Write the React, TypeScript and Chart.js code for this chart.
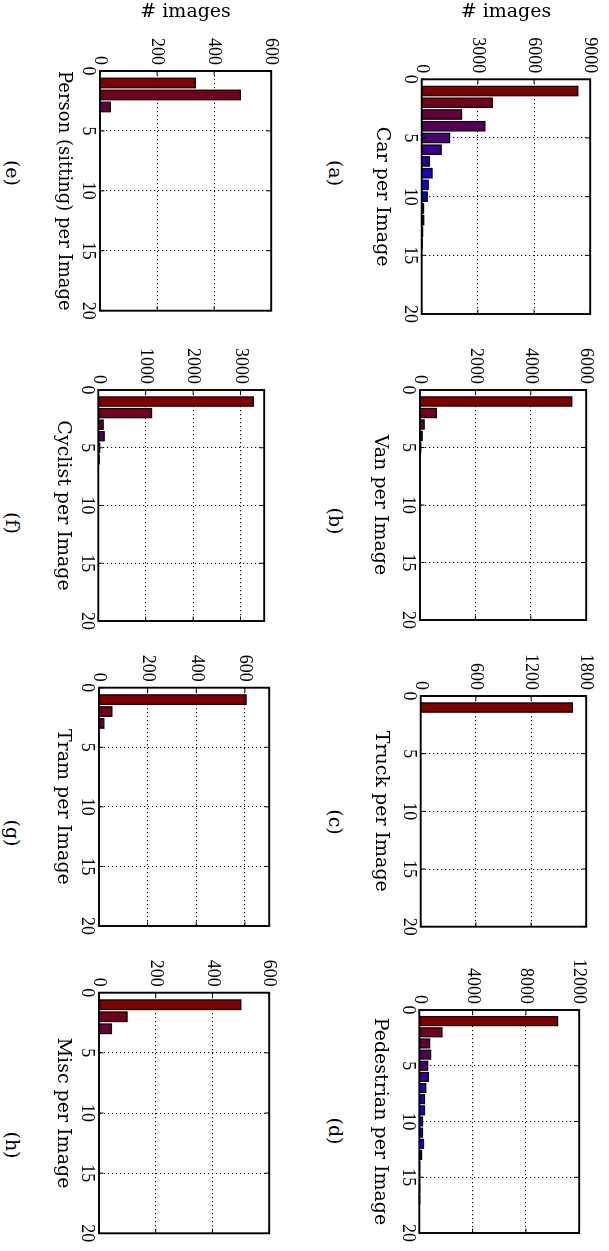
import React, { useEffect, useRef } from "react";
import { Chart, registerables } from "chart.js";

Chart.register(...registerables);

// Number of objects of a class in one image (bins of every histogram)
const OBJECTS_PER_IMAGE = [1, 2, 3, 4, 5, 6, 7, 8, 9, 10, 11, 12, 13, 14, 15, 16, 17, 18, 19, 20];
const COUNT_TICKS = [0, 5, 10, 15, 20];

// Number of images holding that many objects, per class
const carImages = [8340, 3770, 2130, 3375, 1490, 1040, 415, 555, 345, 295, 100, 110, 50, 20, 0, 0, 0, 0, 0, 0];
const vanImages = [5480, 590, 150, 80, 30, 0, 0, 0, 0, 0, 0, 0, 0, 0, 0, 0, 0, 0, 0, 0];
const truckImages = [1650, 0, 0, 0, 0, 0, 0, 0, 0, 0, 0, 0, 0, 0, 0, 0, 0, 0, 0, 0];
const pedestrianImages = [10380, 1700, 775, 850, 630, 680, 485, 390, 390, 240, 240, 315, 170, 40, 20, 10, 5, 0, 0, 0];
const personSittingImages = [334, 492, 36, 0, 0, 0, 0, 0, 0, 0, 0, 0, 0, 0, 0, 0, 0, 0, 0, 0];
const cyclistImages = [3272, 1124, 103, 124, 30, 20, 0, 0, 0, 0, 0, 0, 0, 0, 0, 0, 0, 0, 0, 0];
const tramImages = [605, 53, 20, 0, 0, 0, 0, 0, 0, 0, 0, 0, 0, 0, 0, 0, 0, 0, 0, 0];
const miscImages = [500, 99, 44, 0, 0, 0, 0, 0, 0, 0, 0, 0, 0, 0, 0, 0, 0, 0, 0, 0];

// Value axis tick labels and upper limits
const carYTicks = [0, 3000, 6000, 9000];
const vanYTicks = [0, 2000, 4000, 6000];
const truckYTicks = [0, 600, 1200, 1800];
const pedestrianYTicks = [0, 4000, 8000, 12000];
const personSittingYTicks = [0, 200, 400, 600];
const cyclistYTicks = [0, 1000, 2000, 3000];
const tramYTicks = [0, 200, 400, 600];
const miscYTicks = [0, 200, 400, 600];

const Y_LIMITS = [9000, 6000, 1800, 12000, 600, 3500, 700, 600];
const CLASS_LABELS = [
  "Car per Image",
  "Van per Image",
  "Truck per Image",
  "Pedestrian per Image",
  "Person (sitting) per Image",
  "Cyclist per Image",
  "Tram per Image",
  "Misc per Image",
];
const SUB_CAPTIONS = ["(a)", "(b)", "(c)", "(d)", "(e)", "(f)", "(g)", "(h)"];
const Y_AXIS_LABEL = "# images";

const SERIES = [carImages, vanImages, truckImages, pedestrianImages, personSittingImages, cyclistImages, tramImages, miscImages];
const Y_TICKS = [carYTicks, vanYTicks, truckYTicks, pedestrianYTicks, personSittingYTicks, cyclistYTicks, tramYTicks, miscYTicks];

// Figure geometry (landscape sheet, later turned a quarter clockwise)
const SHEET_W = 1251;
const SHEET_H = 609;
const PLOT_BOXES = [
  { x: 79.3, y: 14, w: 234.7, h: 173.3 },
  { x: 390, y: 18.3, w: 230, h: 170.7 },
  { x: 696, y: 18, w: 230.7, h: 170.3 },
  { x: 1010, y: 25, w: 223, h: 164.7 },
  { x: 71, y: 333, w: 239.7, h: 176 },
  { x: 390, y: 340.7, w: 231, h: 170 },
  { x: 687.7, y: 335.7, w: 238.3, h: 174.3 },
  { x: 992.7, y: 335.7, w: 240.6, h: 174.3 },
];
const SHOW_Y_LABEL = [true, false, false, false, true, false, false, false];
const Y_AREA = [78.2, 60, 60, 60, 69.9, 60, 60, 60];
const X_AREA = [51, 51, 51, 51, 47, 47, 47, 47];
const CAPTION_POS = [
  { x: 173, y: 273.5 },
  { x: 521, y: 273.5 },
  { x: 822, y: 273.5 },
  { x: 1131, y: 273.5 },
  { x: 173, y: 597.3 },
  { x: 523, y: 597.3 },
  { x: 833, y: 597.3 },
  { x: 1145, y: 597.3 },
];

const TICK_FONT = { family: '"Liberation Serif", "Times New Roman", serif', size: 18 };
const TITLE_FONT = { family: '"DejaVu Serif", serif', size: 19 };

// dark red -> blue colour ramp over the bins
function binColor(bin: number): string {
  const t = Math.min(1, (bin - 1) / 9);
  const r = Math.round(128 * (1 - t));
  const b = Math.round(255 * t);
  return `rgb(${r},0,${b})`;
}

// Black bar edges centred on the bar outline, then the plot box with
// inward tick marks on all four sides
const framePlugin = {
  id: "matlabFrame",
  afterDatasetsDraw(chart: any) {
    const { ctx, chartArea, scales } = chart;
    const { left, top, right, bottom } = chartArea;
    const xs = scales.x;
    const ys = scales.y;
    ctx.save();

    const meta = chart.getDatasetMeta(0);
    const raw = chart.data.datasets[0].data as any[];
    ctx.strokeStyle = "#000";
    ctx.lineWidth = 1.2;
    meta.data.forEach((el: any, i: number) => {
      if (!raw[i] || !raw[i].y) return;
      const { x, y, base, width } = el.getProps(["x", "y", "base", "width"], true);
      const y0 = Math.min(y, base);
      const h = Math.abs(base - y);
      ctx.strokeRect(x - width / 2, y0, width, h);
    });

    const L = 4.5;
    ctx.lineWidth = 1;
    ctx.beginPath();
    xs.ticks.forEach((t: any) => {
      const px = xs.getPixelForValue(t.value);
      ctx.moveTo(px, bottom);
      ctx.lineTo(px, bottom - L);
      ctx.moveTo(px, top);
      ctx.lineTo(px, top + L);
    });
    ys.ticks.forEach((t: any) => {
      const py = ys.getPixelForValue(t.value);
      ctx.moveTo(left, py);
      ctx.lineTo(left + L, py);
      ctx.moveTo(right, py);
      ctx.lineTo(right - L, py);
    });
    ctx.stroke();
    ctx.lineWidth = 1.9;
    ctx.strokeRect(left, top, right - left, bottom - top);
    ctx.restore();
  },
};

function Panel({ index }: { index: number }) {
  const ref = useRef<HTMLCanvasElement | null>(null);
  const box = PLOT_BOXES[index];
  const padTop = 12;
  const padRight = 14;
  const cl = Math.floor(box.x - Y_AREA[index]);
  const ct = Math.floor(box.y - padTop);
  const cr = Math.ceil(box.x + box.w + padRight);
  const cb = Math.ceil(box.y + box.h + X_AREA[index]);
  const width = cr - cl;
  const height = cb - ct;

  useEffect(() => {
    const canvas = ref.current;
    if (!canvas) return;
    const yW = box.x - cl;
    const xH = cb - (box.y + box.h);
    const values = SERIES[index];
    const yTicks = Y_TICKS[index];
    const chart = new Chart(canvas, {
      type: "bar",
      data: {
        datasets: [
          {
            data: OBJECTS_PER_IMAGE.map((c, i) => ({ x: c, y: values[i] })),
            backgroundColor: OBJECTS_PER_IMAGE.map(binColor),
            borderWidth: 0,
            barPercentage: 0.8,
            categoryPercentage: 1,
          } as any,
        ],
      },
      options: {
        animation: false,
        responsive: false,
        events: [],
        layout: {
          padding: { top: box.y - ct, right: cr - (box.x + box.w), left: 0, bottom: 0 },
        },
        plugins: {
          legend: { display: false },
          tooltip: { enabled: false },
          title: { display: false },
        },
        scales: {
          x: {
            type: "linear",
            min: 0,
            max: 20,
            offset: false,
            grid: { offset: false, color: "#000", lineWidth: 1, drawTicks: false },
            border: { display: false, dash: [1.2, 2.8] },
            ticks: {
              font: TICK_FONT,
              color: "#000",
              padding: 1,
              maxRotation: 0,
              autoSkip: false,
              callback: (v: any) => String(v),
            },
            afterBuildTicks: (s: any) => {
              s.ticks = COUNT_TICKS.map((v) => ({ value: v }));
            },
            afterFit: (s: any) => {
              s.height = xH;
            },
            title: {
              display: true,
              text: CLASS_LABELS[index],
              font: TITLE_FONT,
              color: "#000",
              padding: { top: 0, bottom: xH - X_AREA[index] },
            },
          },
          y: {
            type: "linear",
            min: 0,
            max: Y_LIMITS[index],
            grid: { color: "#000", lineWidth: 1, drawTicks: false },
            border: { display: false, dash: [1.2, 2.8] },
            ticks: {
              font: TICK_FONT,
              color: "#000",
              padding: 6,
              callback: (v: any) => String(v),
            },
            afterBuildTicks: (s: any) => {
              s.ticks = yTicks.map((v) => ({ value: v }));
            },
            afterFit: (s: any) => {
              s.width = yW;
            },
            title: {
              display: SHOW_Y_LABEL[index],
              text: Y_AXIS_LABEL,
              font: TITLE_FONT,
              color: "#000",
              padding: { top: yW - Y_AREA[index], bottom: 0 },
            },
          },
        } as any,
      },
      plugins: [framePlugin],
    });
    return () => chart.destroy();
  }, [index]);

  return (
    <canvas
      ref={ref}
      width={width}
      height={height}
      style={{ position: "absolute", left: cl, top: ct, width, height }}
    />
  );
}

export default function App() {
  return (
    <div
      style={{
        position: "fixed",
        left: 0,
        top: 0,
        width: SHEET_H,
        height: SHEET_W,
        overflow: "hidden",
        background: "#fff",
      }}
    >
      <div
        style={{
          position: "absolute",
          left: 0,
          top: 0,
          width: SHEET_W,
          height: SHEET_H,
          transformOrigin: "0 0",
          transform: `translate(${SHEET_H}px, 0px) rotate(90deg)`,
        }}
      >
        {PLOT_BOXES.map((_, i) => (
          <Panel key={i} index={i} />
        ))}
        {SUB_CAPTIONS.map((c, i) => (
          <div
            key={c}
            style={{
              position: "absolute",
              left: CAPTION_POS[i].x,
              top: CAPTION_POS[i].y,
              transform: "translate(-50%, -50%)",
              fontFamily: '"DejaVu Serif", serif',
              fontSize: 19,
              lineHeight: "19px",
              whiteSpace: "nowrap",
              color: "#000",
            }}
          >
            {c}
          </div>
        ))}
      </div>
    </div>
  );
}
